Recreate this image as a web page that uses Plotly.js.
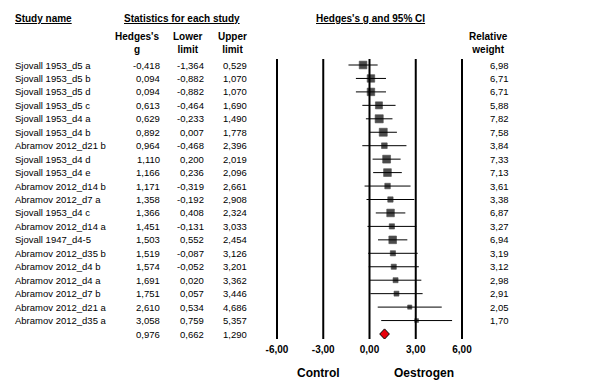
<!DOCTYPE html>
<html><head><meta charset="utf-8">
<script src="https://cdn.plot.ly/plotly-3.0.1.min.js"></script>
<style>html,body{margin:0;padding:0;background:#fff}#chart{width:611px;height:383px}</style>
</head><body><div id="chart"></div>
<script>
const studies = ["Sjovall 1953_d5 a","Sjovall 1953_d5 b","Sjovall 1953_d5 d","Sjovall 1953_d5 c","Sjovall 1953_d4 a","Sjovall 1953_d4 b","Abramov 2012_d21 b","Sjovall 1953_d4 d","Sjovall 1953_d4 e","Abramov 2012_d14 b","Abramov 2012_d7 a","Sjovall 1953_d4 c","Abramov 2012_d14 a","Sjovall 1947_d4-5","Abramov 2012_d35 b","Abramov 2012_d4 b","Abramov 2012_d4 a","Abramov 2012_d7 b","Abramov 2012_d21 a","Abramov 2012_d35 a"];
const hedgesG = [-0.418,0.094,0.094,0.613,0.629,0.892,0.964,1.110,1.166,1.171,1.358,1.366,1.451,1.503,1.519,1.574,1.691,1.751,2.610,3.058];
const lowerLimit = [-1.364,-0.882,-0.882,-0.464,-0.233,0.007,-0.468,0.200,0.236,-0.319,-0.192,0.408,-0.131,0.552,-0.087,-0.052,0.020,0.057,0.534,0.759];
const upperLimit = [0.529,1.070,1.070,1.690,1.490,1.778,2.396,2.019,2.096,2.661,2.908,2.324,3.033,2.454,3.126,3.201,3.362,3.446,4.686,5.357];
const relWeight = [6.98,6.71,6.71,5.88,7.82,7.58,3.84,7.33,7.13,3.61,3.38,6.87,3.27,6.94,3.19,3.12,2.98,2.91,2.05,1.70];
const summaryG = [0.976];
const summaryLower = [0.662];
const summaryUpper = [1.290];
const xTicks = [-6,-3,0,3,6];
const xTickText = ["-6,00","-3,00","0,00","3,00","6,00"];

const W = 611, H = 383;
const FONT = "Liberation Sans, Arial, sans-serif";
const fmt = (v,d) => v.toFixed(d).replace('.', ',');
const rows = studies.map((_, i) => i);
const sumRow = studies.length;
const topPx = 59, botPx = 339;
const rowTop = (topPx - 65) / 13.45, rowBot = (botPx - 65) / 13.45;

const traces = [];
xTicks.forEach(t => {
  traces.push({type: 'scatter', mode: 'lines', x: [t, t], y: [rowTop, rowBot],
    line: {color: '#000', width: 2}, hoverinfo: 'skip', cliponaxis: false});
});
traces.push({
    type: 'scatter', mode: 'markers', x: hedgesG, y: rows,
    marker: {symbol: 'square', color: '#000', size: relWeight.map(w => 2.9*Math.sqrt(w)), line: {width: 0.6, color: '#000'}},
    error_x: {type: 'data', symmetric: false,
      array: upperLimit.map((u,i) => u - hedgesG[i]),
      arrayminus: lowerLimit.map((l,i) => hedgesG[i] - l),
      width: 0, thickness: 1, color: '#000'},
    hoverinfo: 'skip', cliponaxis: false
});
traces.push({
    type: 'scatter', mode: 'lines',
    x: [summaryLower[0], summaryG[0], summaryUpper[0], summaryG[0], summaryLower[0]],
    y: [sumRow, sumRow - 0.38, sumRow, sumRow + 0.38, sumRow],
    fill: 'toself', fillcolor: '#e8000b', line: {color: '#000', width: 1},
    hoverinfo: 'skip', cliponaxis: false
});

const ann = [];
const colFont = {family: FONT, size: 9.5, color: '#000'};
rows.forEach(i => {
  ann.push({xref:'paper', yref:'y', x: 13/W, y: i, xanchor:'left', text: studies[i], font: colFont});
  ann.push({xref:'paper', yref:'y', x: 162/W, y: i, xanchor:'right', text: fmt(hedgesG[i],3), font: colFont});
  ann.push({xref:'paper', yref:'y', x: 206/W, y: i, xanchor:'right', text: fmt(lowerLimit[i],3), font: colFont});
  ann.push({xref:'paper', yref:'y', x: 249/W, y: i, xanchor:'right', text: fmt(upperLimit[i],3), font: colFont});
  ann.push({xref:'paper', yref:'y', x: 511/W, y: i, xanchor:'right', text: fmt(relWeight[i],2), font: colFont});
});
ann.push({xref:'paper', yref:'y', x: 162/W, y: sumRow, xanchor:'right', text: fmt(summaryG[0],3), font: colFont});
ann.push({xref:'paper', yref:'y', x: 206/W, y: sumRow, xanchor:'right', text: fmt(summaryLower[0],3), font: colFont});
ann.push({xref:'paper', yref:'y', x: 249/W, y: sumRow, xanchor:'right', text: fmt(summaryUpper[0],3), font: colFont});

const hdr = {family: FONT, size: 10, color: '#000', weight: 'bold'};
const hdrU = Object.assign({}, hdr, {lineposition: 'under'});
const py = p => 1 - p/H;
ann.push({xref:'paper', yref:'paper', x: 13/W, y: py(18), xanchor:'left', text: 'Study name', font: hdrU});
ann.push({xref:'paper', yref:'paper', x: 182/W, y: py(18), xanchor:'center', text: 'Statistics for each study', font: hdrU});
ann.push({xref:'paper', yref:'paper', x: 370/W, y: py(18), xanchor:'center', text: "Hedges's g and 95% CI", font: hdrU});
ann.push({xref:'paper', yref:'paper', x: 137/W, y: py(43), xanchor:'center', text: "Hedges's<br>g", font: hdr});
ann.push({xref:'paper', yref:'paper', x: 188/W, y: py(43), xanchor:'center', text: "Lower<br>limit", font: hdr});
ann.push({xref:'paper', yref:'paper', x: 232/W, y: py(43), xanchor:'center', text: "Upper<br>limit", font: hdr});
ann.push({xref:'paper', yref:'paper', x: 488/W, y: py(43), xanchor:'center', text: "Relative<br>weight", font: hdr});
const big = {family: FONT, size: 12, color: '#000', weight: 'bold'};
ann.push({xref:'paper', yref:'paper', x: 318/W, y: py(373), xanchor:'center', text: 'Control', font: big});
ann.push({xref:'paper', yref:'paper', x: 424/W, y: py(373), xanchor:'center', text: 'Oestrogen', font: big});
ann.forEach(a => { a.showarrow = false; a.yanchor = a.yanchor || 'middle'; });

const pxPerUnit = (462 - 277) / 12;
const xr = [-6.4, 6.4];
const layout = {
  width: W, height: H, margin: {l:0, r:0, t:0, b:0},
  paper_bgcolor: '#fff', plot_bgcolor: 'rgba(0,0,0,0)',
  showlegend: false,
  font: {family: FONT, color: '#000'},
  xaxis: {domain: [(369.5 + xr[0]*pxPerUnit)/W, (369.5 + xr[1]*pxPerUnit)/W], range: xr,
    tickvals: xTicks, ticktext: xTickText.map(t => '<b>'+t+'</b>'),
    showgrid: false, zeroline: false, showline: false, ticks: '', ticklabelstandoff: 3,
    tickfont: {family: FONT, size: 10, color: '#000'}, fixedrange: true},
  yaxis: {domain: [1 - botPx/H, 1 - topPx/H], range: [rowBot, rowTop], visible: false, fixedrange: true},
  annotations: ann
};
Plotly.newPlot('chart', traces, layout, {staticPlot: true, displayModeBar: false});
</script></body></html>
